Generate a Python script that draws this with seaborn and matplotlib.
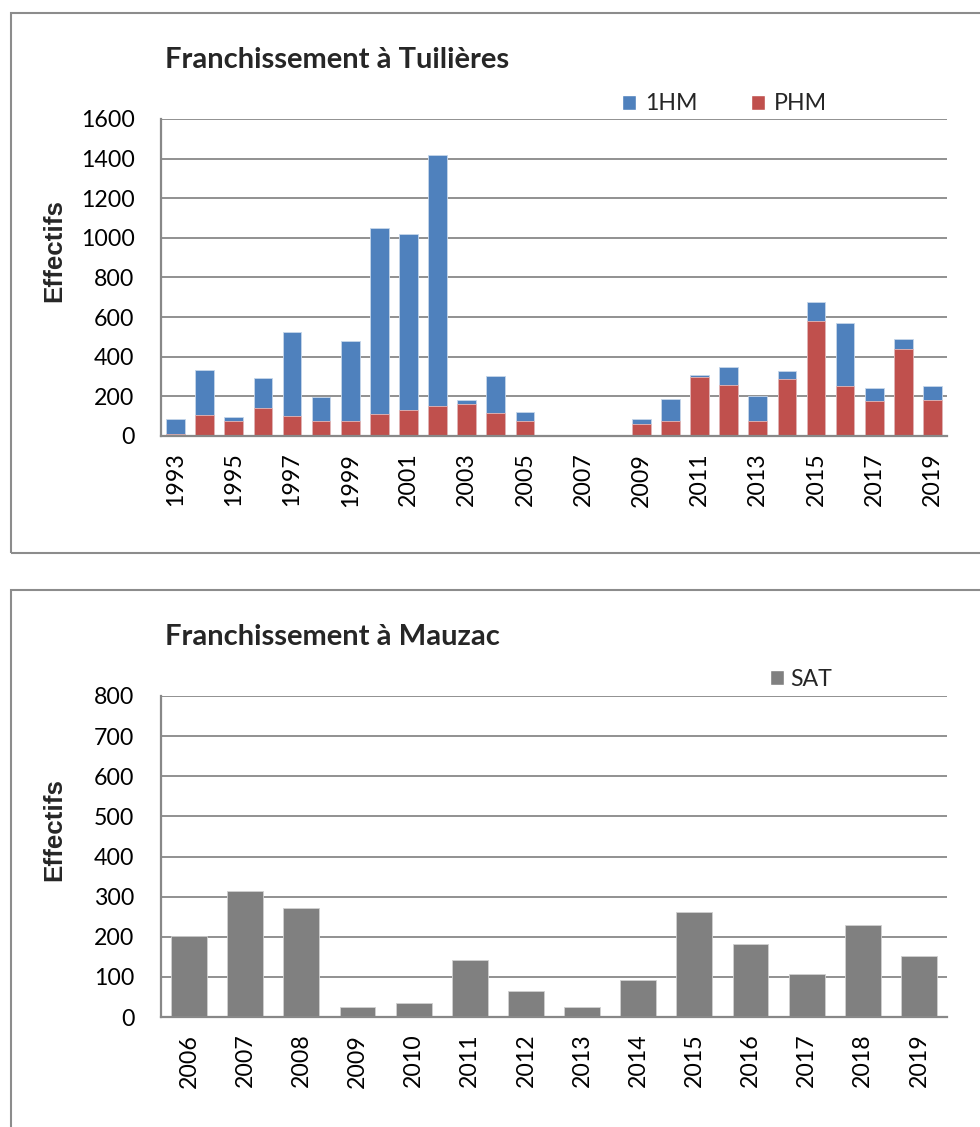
import matplotlib
matplotlib.use("Agg")
import matplotlib.pyplot as plt
from matplotlib.patches import Patch, Rectangle
import numpy as np
import pandas as pd
import seaborn as sns

# Tuilières passage counts (1HM stacked on top of PHM)
years_tuilieres = [str(y) for y in range(1993, 2020)]
phm = [12, 106, 74, 139, 101, 76, 74, 111, 129, 151, 160, 114, 76,
       0, 0, 0, 59, 74, 296, 259, 77, 287, 582, 250, 176, 437, 181]
hm1 = [72, 227, 20, 155, 423, 119, 405, 941, 893, 1266, 22, 190, 43,
       0, 0, 0, 25, 111, 10, 89, 125, 42, 92, 318, 64, 55, 73]

# Mauzac passage counts
years_mauzac = [str(y) for y in range(2006, 2020)]
sat = [203, 314, 272, 26, 36, 143, 66, 25, 91, 261, 181, 106, 230, 151]

BLUE = "#4F81BD"
RED = "#C0504D"
GREY = "#808080"
LINE = "#888888"

sns.set_theme(style="white")
plt.rcParams["font.family"] = ["Lato", "DejaVu Sans"]

W, H = 980, 1127
fig = plt.figure(figsize=(W / 100, H / 100), dpi=100)


def box(x0, y0, x1, y1):
    return [x0 / W, 1 - y1 / H, (x1 - x0) / W, (y1 - y0) / H]


# chart frames
for (fx0, fy0, fx1, fy1) in [(11, 13, 1000, 553), (11, 590, 1000, 1140)]:
    fig.patches.append(Rectangle((fx0 / W, 1 - fy1 / H), (fx1 - fx0) / W, (fy1 - fy0) / H,
                                 transform=fig.transFigure, fill=False,
                                 edgecolor="#8c8c8c", linewidth=1.5, zorder=0))


def style_axes(ax, ymax, step):
    ax.set_ylim(0, ymax)
    ax.set_yticks(np.arange(0, ymax + 1, step))
    ax.set_axisbelow(True)
    ax.yaxis.grid(True, color=LINE, linewidth=1.3)
    ax.xaxis.grid(False)
    for s in ["top", "right"]:
        ax.spines[s].set_visible(False)
    for s in ["left", "bottom"]:
        ax.spines[s].set_color(LINE)
        ax.spines[s].set_linewidth(1.6)
    ax.tick_params(axis="y", length=0, pad=19, labelsize=16.7, labelcolor="black")
    ax.tick_params(axis="x", length=0, pad=12, labelsize=16.7, labelcolor="black",
                   labelrotation=90)
    ax.set_xlabel("")
    ax.set_ylabel("Effectifs", fontsize=18.7, fontweight="bold",
                  family=["Liberation Sans", "DejaVu Sans"])
    ax.yaxis.set_label_coords(-0.120, 0.585)
    ax.set_facecolor("none")


# ---- Tuilières ----
df_t = pd.DataFrame({"year": years_tuilieres, "phm": phm, "hm1": hm1})
df_t["total"] = df_t["phm"] + df_t["hm1"]

ax1 = fig.add_axes(box(161, 119, 947, 436))
sns.barplot(data=df_t, x="year", y="total", order=years_tuilieres, color=BLUE,
            saturation=1, width=0.64, edgecolor="#c6d6ea", linewidth=0.6, ax=ax1)
sns.barplot(data=df_t, x="year", y="phm", order=years_tuilieres, color=RED,
            saturation=1, width=0.64, edgecolor="#e6b8b7", linewidth=0.6, ax=ax1)
ax1.set_xlim(-0.5, len(years_tuilieres) - 0.5)
style_axes(ax1, 1600, 200)
ax1.set_xticks(range(len(years_tuilieres)))
ax1.set_xticklabels([y if i % 2 == 0 else "" for i, y in enumerate(years_tuilieres)])

fig.text(165 / W, 1 - 60 / H, "Franchissement à Tuilières", fontsize=21,
         fontweight="bold", ha="left", va="center")
fig.legend(handles=[Patch(facecolor=BLUE, label="1HM"), Patch(facecolor=RED, label="PHM")],
           loc="center left", bbox_to_anchor=(622 / W, 1 - 104 / H), ncol=2,
           frameon=False, fontsize=16.7, handlelength=0.6, handleheight=0.6,
           handletextpad=0.4, columnspacing=2.3, borderaxespad=0, borderpad=0)

# ---- Mauzac ----
df_m = pd.DataFrame({"year": years_mauzac, "sat": sat})
ax2 = fig.add_axes(box(161, 696, 947, 1017))
sns.barplot(data=df_m, x="year", y="sat", order=years_mauzac, color=GREY,
            saturation=1, width=0.64, edgecolor="#d0d0d0", linewidth=0.6, ax=ax2)
ax2.set_xlim(-0.5, len(years_mauzac) - 0.5)
style_axes(ax2, 800, 100)

fig.text(165 / W, 1 - 637 / H, "Franchissement à Mauzac", fontsize=21,
         fontweight="bold", ha="left", va="center")
fig.legend(handles=[Patch(facecolor=GREY, label="SAT")],
           loc="center left", bbox_to_anchor=(770 / W, 1 - 679 / H),
           frameon=False, fontsize=16.7, handlelength=0.6, handleheight=0.6,
           handletextpad=0.25, borderaxespad=0, borderpad=0)

fig.savefig("out.png", dpi=100)
